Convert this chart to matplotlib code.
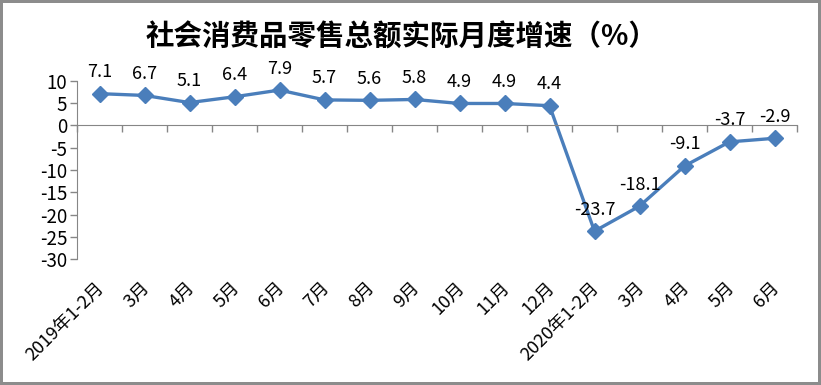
import matplotlib
matplotlib.use("Agg")
import matplotlib.pyplot as plt
import matplotlib.transforms as mtransforms
import numpy as np

plt.rcParams['font.family'] = ['Noto Sans CJK SC', 'DejaVu Sans']

# data
months = ['2019年1-2月', '3月', '4月', '5月', '6月', '7月', '8月', '9月',
          '10月', '11月', '12月', '2020年1-2月', '3月', '4月', '5月', '6月']
growth = [7.1, 6.7, 5.1, 6.4, 7.9, 5.7, 5.6, 5.8,
          4.9, 4.9, 4.4, -23.7, -18.1, -9.1, -3.7, -2.9]
yticks = [10, 5, 0, -5, -10, -15, -20, -25, -30]
title = '社会消费品零售总额实际月度增速（%）'

lineColor = '#4A7EBB'
axisColor = '#868686'

fig = plt.figure(figsize=(8.21, 3.85), dpi=100)
fig.patch.set_edgecolor('#8C8C8C')
fig.patch.set_linewidth(3)

ax = fig.add_axes([77/821, 1 - 259.3/385, 720/821, 178.6/385])

x = np.arange(len(months))
ax.plot(x, growth, color=lineColor, linewidth=2.4, marker='D',
        markersize=8.5, markerfacecolor=lineColor, markeredgecolor=lineColor)

#data labels above the points
for xi, v in zip(x, growth):
    ax.annotate(f'{v:.1f}', (xi, v), xytext=(0, 9), textcoords='offset points',
                ha='center', va='bottom', fontsize=13, color='black')

ax.set_xlim(-0.5, len(months) - 0.5)
ax.set_ylim(min(yticks), max(yticks))
ax.set_yticks(yticks)
ax.set_yticklabels([str(t) for t in yticks], fontsize=13.5)
ax.tick_params(axis='y', direction='out', length=5, width=1,
               color=axisColor, pad=2)

#category axis sits on zero
ax.spines['bottom'].set_position(('data', 0))
ax.spines['bottom'].set_color(axisColor)
ax.spines['left'].set_color(axisColor)
ax.spines['top'].set_visible(False)
ax.spines['right'].set_visible(False)
ax.set_xticks(np.arange(len(months) + 1) - 0.5)
ax.set_xticklabels([])
ax.tick_params(axis='x', direction='out', length=5, width=1, color=axisColor)

trans = mtransforms.blended_transform_factory(ax.transData, ax.transAxes)
offset = mtransforms.ScaledTranslation(0, -26/100, fig.dpi_scale_trans)
for xi, label in zip(x, months):
    ax.text(xi + 0.05, 0, label, transform=trans + offset, rotation=45,
            rotation_mode='anchor', ha='right', va='center', fontsize=13)

fig.text(402/821, 1 - 38/385, title, ha='center', va='center',
         fontsize=20.5, fontweight='bold')

fig.savefig('out.png', dpi=100, edgecolor=fig.get_edgecolor())
